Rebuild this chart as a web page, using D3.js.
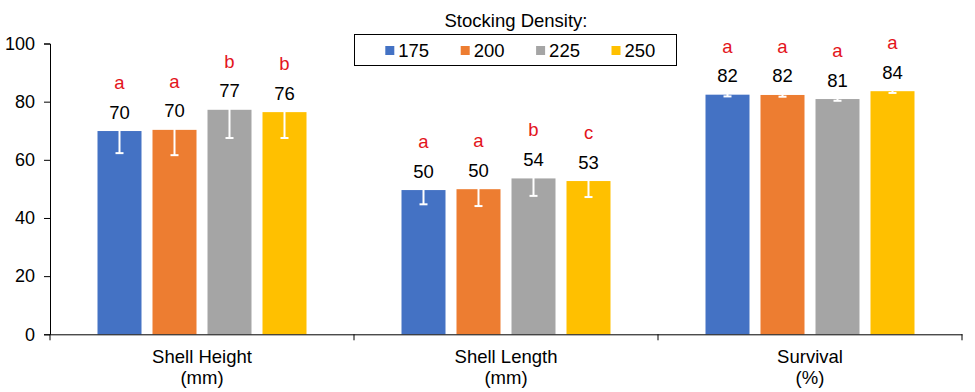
<!DOCTYPE html>
<html>
<head>
<meta charset="utf-8">
<script src="https://cdn.jsdelivr.net/npm/d3@7"></script>
<style>
  html, body { margin: 0; padding: 0; background: #fff; }
  svg { display: block; font-family: "Liberation Sans", Arial, sans-serif; }
</style>
</head>
<body>
<svg id="chart" width="975" height="392"></svg>
<script>
const categories = ["Shell Height\n(mm)", "Shell Length\n(mm)", "Survival\n(%)"];
const densities = ["175", "200", "225", "250"];
const colors = ["#4472C4", "#ED7D31", "#A5A5A5", "#FFC000"];
// values per density, across the three categories
const values175 = [69.9, 49.6, 82.4];
const values200 = [70.3, 49.9, 82.3];
const values225 = [77.2, 53.6, 80.9];
const values250 = [76.4, 52.7, 83.6];
// error (±) per density
const err175 = [7.6, 4.9, 0.6];
const err200 = [8.7, 5.8, 0.6];
const err225 = [9.7, 6.0, 0.6];
const err250 = [8.9, 5.5, 0.6];
// significance letters
const letters175 = ["a", "a", "a"];
const letters200 = ["a", "a", "a"];
const letters225 = ["b", "b", "a"];
const letters250 = ["b", "c", "a"];
const yTicks = [0, 20, 40, 60, 80, 100];
const legendTitle = "Stocking Density:";

const seriesValues = [values175, values200, values225, values250];
const seriesErr = [err175, err200, err225, err250];
const seriesLetters = [letters175, letters200, letters225, letters250];

const data = [];
categories.forEach((c, ci) => {
  densities.forEach((d, di) => {
    data.push({cat: c, dens: d, value: seriesValues[di][ci], err: seriesErr[di][ci],
               letter: seriesLetters[di][ci], color: colors[di]});
  });
});

const FS = "18.5px";
const svg = d3.select("#chart");
svg.append("rect").attr("width", 975).attr("height", 392).attr("fill", "#fff");

const x0 = d3.scaleBand().domain(categories).range([50, 962]).padding(0);
const groupW = 209;
const x1 = d3.scaleBand().domain(densities).range([0, groupW]).paddingInner(0.2).paddingOuter(0);
const y = d3.scaleLinear().domain([0, 100]).range([334.3, 43.5]);
const color = d3.scaleOrdinal().domain(densities).range(colors);
const off = (x0.bandwidth() - groupW) / 2;

// bars
svg.append("g").selectAll("rect").data(data).join("rect")
  .attr("x", d => x0(d.cat) + off + x1(d.dens))
  .attr("y", d => y(d.value))
  .attr("width", x1.bandwidth())
  .attr("height", d => y(0) - y(d.value))
  .attr("fill", d => color(d.dens));

// error bars (white)
const eg = svg.append("g").attr("stroke", "#fff").attr("stroke-width", 2);
data.forEach(d => {
  const cx = x0(d.cat) + off + x1(d.dens) + x1.bandwidth() / 2;
  eg.append("line").attr("x1", cx).attr("x2", cx).attr("y1", y(d.value - d.err)).attr("y2", y(d.value + d.err));
  [d.value - d.err, d.value + d.err].forEach(v => {
    eg.append("line").attr("x1", cx - 4).attr("x2", cx + 4).attr("y1", y(v)).attr("y2", y(v));
  });
});

// y axis
const yAxis = d3.axisLeft(y).tickValues(yTicks).tickSize(6).tickPadding(9);
const yg = svg.append("g").attr("transform", "translate(50,0)").call(yAxis);
yg.select(".domain").attr("stroke", "#000");
yg.selectAll(".tick line").attr("stroke", "#000");
yg.selectAll(".tick text").attr("fill", "#000").style("font-size", "18px")
  .style("font-family", "'Liberation Sans', Arial, sans-serif");

// x axis
const xAxis = d3.axisBottom(x0).tickValues([]).tickSizeOuter(0);
const xg = svg.append("g").attr("transform", `translate(0,${y(0)})`).call(xAxis);
xg.select(".domain").attr("stroke", "#000");
// category boundary ticks
const boundaries = categories.map(c => x0(c)).concat([x0.range()[1]]);
xg.selectAll("line.bt").data(boundaries).join("line").attr("class", "bt")
  .attr("x1", d => d).attr("x2", d => d).attr("y1", 0).attr("y2", 6).attr("stroke", "#000");
// category labels
categories.forEach(c => {
  const lines = c.split("\n");
  const t = xg.append("text").attr("x", x0(c) + x0.bandwidth() / 2).attr("y", 29)
    .attr("text-anchor", "middle").attr("fill", "#000").style("font-size", FS);
  lines.forEach((l, i) => t.append("tspan").attr("x", x0(c) + x0.bandwidth() / 2).attr("dy", i === 0 ? 0 : 21).text(l));
});

// value labels and letters
const lg = svg.append("g").attr("text-anchor", "middle");
data.forEach(d => {
  const cx = x0(d.cat) + off + x1(d.dens) + x1.bandwidth() / 2;
  const top = y(d.value);
  lg.append("text").attr("x", cx).attr("y", top - 19).attr("dy", "0.35em")
    .attr("fill", "#000").style("font-size", FS).text(Math.round(d.value));
  lg.append("text").attr("x", cx).attr("y", top - 48.5).attr("dy", "0.35em")
    .attr("fill", "#E3141B").style("font-size", FS).text(d.letter);
});

// legend
const leg = svg.append("g");
leg.append("text").attr("x", 516).attr("y", 26.5).attr("text-anchor", "middle")
  .attr("fill", "#000").style("font-size", FS).text(legendTitle);
leg.append("rect").attr("x", 354.5).attr("y", 34.5).attr("width", 322).attr("height", 31)
  .attr("fill", "none").attr("stroke", "#000").attr("stroke-width", 1);
densities.forEach((d, i) => {
  const lx = 385.3 + i * 75.4;
  leg.append("rect").attr("x", lx).attr("y", 46).attr("width", 9).attr("height", 9).attr("fill", color(d));
  leg.append("text").attr("x", lx + 13).attr("y", 56.5).attr("fill", "#000")
    .style("font-size", FS).text(d);
});
</script>
</body>
</html>
